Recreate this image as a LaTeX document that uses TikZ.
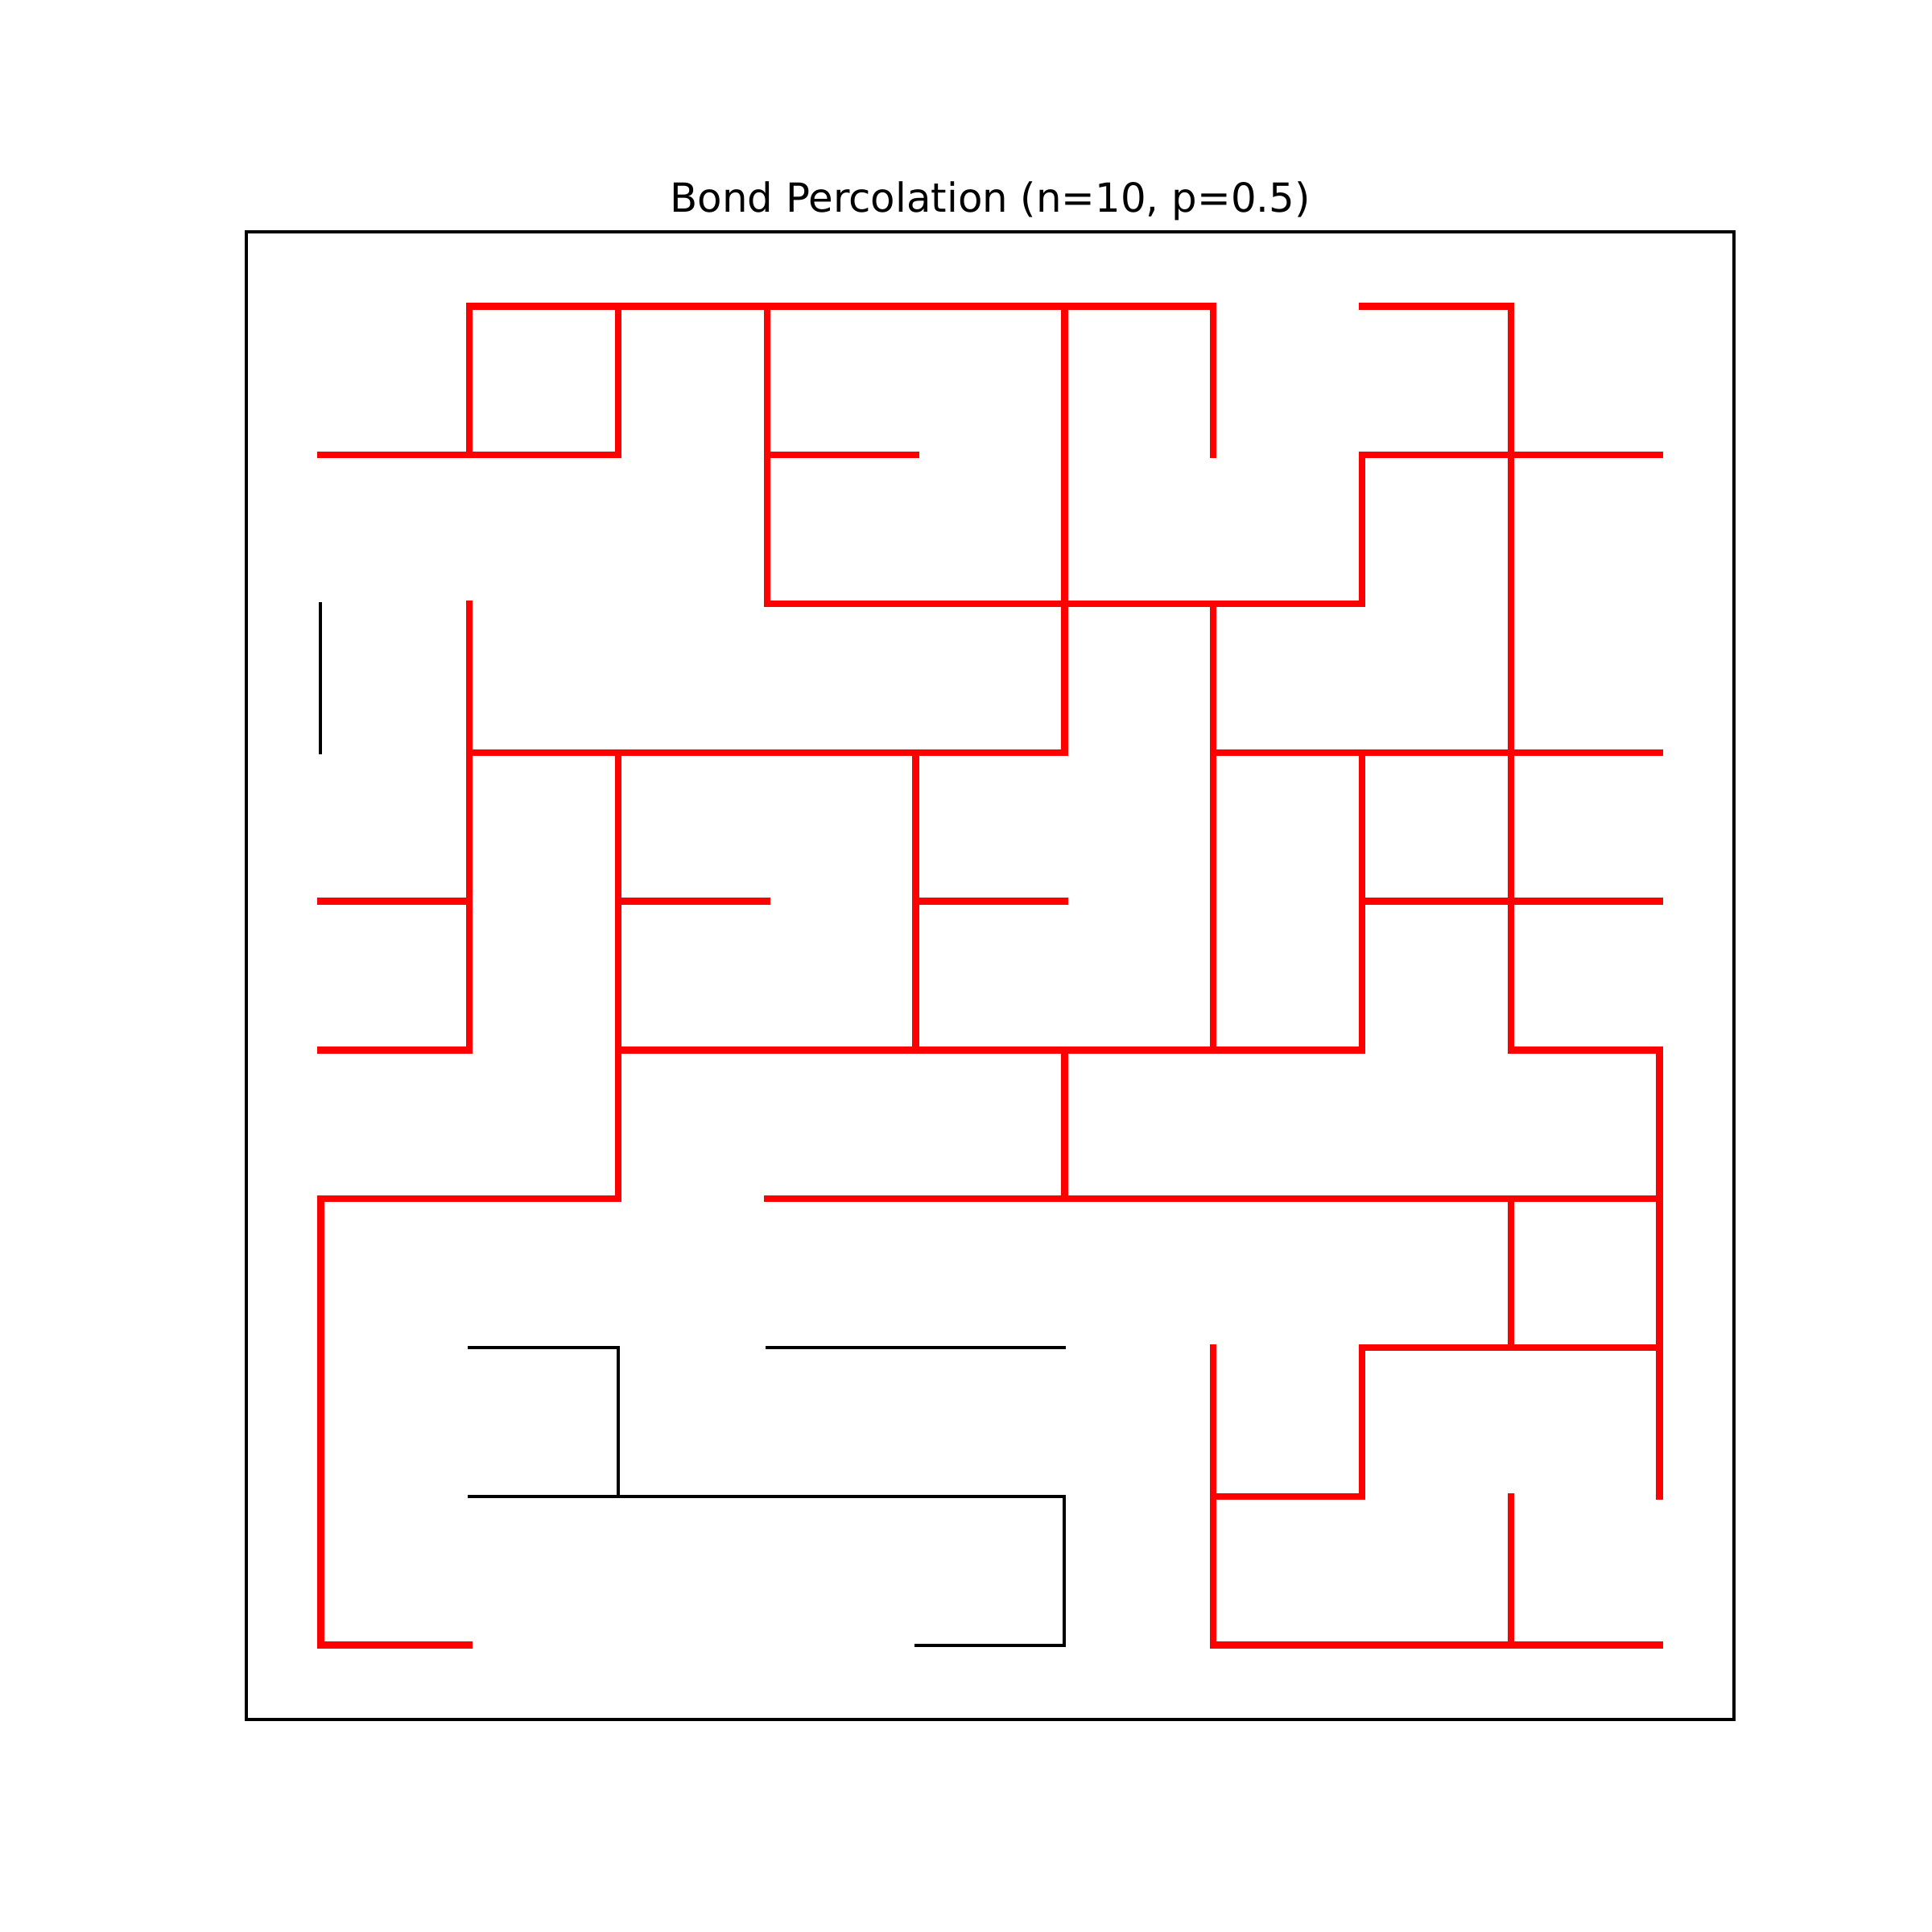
\documentclass[tikz,border=0pt]{standalone}
\usepackage{fontspec}
\setmainfont{DejaVu Sans}
\begin{document}
\begin{tikzpicture}[x=1.5646cm,y=1.5646cm,
  redbond/.style={draw=red,line width=2pt,line cap=rect},
  blackbond/.style={draw=black,line width=1pt,line cap=rect},
  framebox/.style={draw=black,line width=0.8pt}]
\useasboundingbox (-2.1558,-1.9286) rectangle (10.8312,11.0584);
\foreach \c in {0,...,9} {\foreach \r in {0,...,9} {\coordinate (p-\c-\r) at (\c,9-\r);}}
% horizontal bonds
\foreach \c/\r [evaluate=\c as \cn using int(\c+1)] in {1/7,3/7,4/7,1/8,2/8,3/8,4/8,4/9}
  \draw[blackbond] (p-\c-\r) -- (p-\cn-\r);
\foreach \c/\r [evaluate=\r as \rn using int(\r+1)] in {0/2,2/7,5/8}
  \draw[blackbond] (p-\c-\r) -- (p-\c-\rn);
\foreach \c/\r [evaluate=\c as \cn using int(\c+1)] in {1/0,2/0,3/0,4/0,5/0,7/0,0/1,1/1,3/1,7/1,8/1,3/2,4/2,5/2,6/2,1/3,2/3,3/3,4/3,6/3,7/3,8/3,0/4,2/4,4/4,7/4,8/4,0/5,2/5,3/5,4/5,5/5,6/5,8/5,0/6,1/6,3/6,4/6,5/6,6/6,7/6,8/6,7/7,8/7,6/8,0/9,6/9,7/9,8/9}
  \draw[redbond] (p-\c-\r) -- (p-\cn-\r);
\foreach \c/\r [evaluate=\r as \rn using int(\r+1)] in {0/6,0/7,0/8,1/0,1/2,1/3,1/4,2/0,2/3,2/4,2/5,3/0,3/1,4/3,4/4,5/0,5/1,5/2,5/5,6/0,6/2,6/3,6/4,6/7,6/8,7/1,7/3,7/4,7/7,8/0,8/1,8/2,8/3,8/4,8/6,8/8,9/5,9/6,9/7}
  \draw[redbond] (p-\c-\r) -- (p-\c-\rn);
\coordinate (fsw) at (-0.5,-0.5);
\coordinate (fne) at (9.5,9.5);
\draw[framebox] (fsw) rectangle (fne);
\node[anchor=base,inner sep=0pt,font=\fontsize{12pt}{14pt}\selectfont] (title) at (4.5,9.635) {Bond Percolation (n=10, p=0.5)};
\end{tikzpicture}
\end{document}
